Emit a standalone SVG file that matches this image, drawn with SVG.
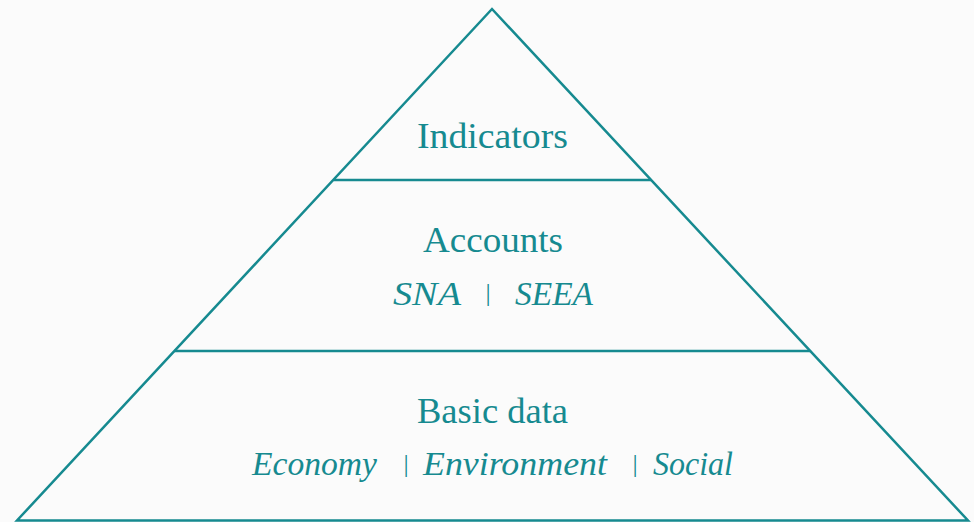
<svg xmlns="http://www.w3.org/2000/svg" width="974" height="522" viewBox="0 0 974 522">
<style>
.edge{fill:none;stroke:#168a90;stroke-width:2.5;stroke-linejoin:miter}
.t{font-family:"Liberation Serif","Times New Roman",serif;fill:#168a90;text-anchor:middle}
.h{font-size:35px}
.i{font-size:33px;font-style:italic}
.bar{font-size:26px}
</style>
<rect width="974" height="522" fill="#fbfbfb"/>
<g id="pyramid">
<polygon class="edge" points="492,9 968,520.5 17,520.5" fill="#ffffff"/>
</g>
<g id="connectors">
<line class="edge" x1="333.5" y1="180" x2="651" y2="180"/>
<line class="edge" x1="174.5" y1="351" x2="810" y2="351"/>
</g>
<g id="indicators">
<text class="t h" x="492.5" y="148" textLength="151" lengthAdjust="spacingAndGlyphs">Indicators</text>
</g>
<g id="accounts">
<text class="t h" x="493" y="252" textLength="140" lengthAdjust="spacingAndGlyphs">Accounts</text>
<text class="t i" x="427" y="305" textLength="68" lengthAdjust="spacingAndGlyphs">SNA</text>
<text class="t bar" x="488" y="301">|</text>
<text class="t i" x="554" y="305" textLength="78" lengthAdjust="spacingAndGlyphs">SEEA</text>
</g>
<g id="basic-data">
<text class="t h" x="492.5" y="423" textLength="151" lengthAdjust="spacingAndGlyphs">Basic data</text>
<text class="t i" x="314.5" y="475" textLength="125" lengthAdjust="spacingAndGlyphs">Economy</text>
<text class="t bar" x="406" y="472">|</text>
<text class="t i" x="515" y="475" textLength="184" lengthAdjust="spacingAndGlyphs">Environment</text>
<text class="t bar" x="635" y="472">|</text>
<text class="t i" x="693" y="475" textLength="80" lengthAdjust="spacingAndGlyphs">Social</text>
</g>
</svg>
